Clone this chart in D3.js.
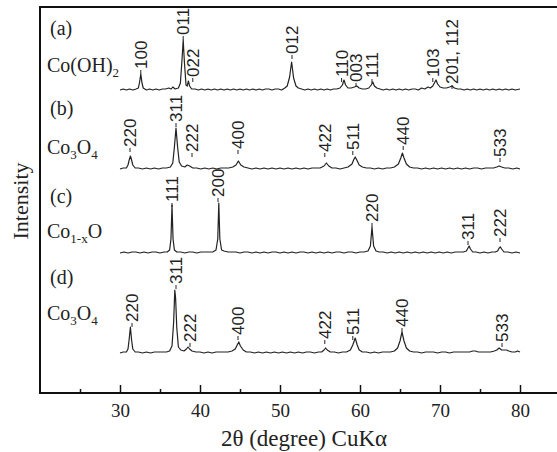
<!DOCTYPE html>
<html lang="en">
<head>
    <meta charset="UTF-8">
    <title>XRD patterns of cobalt hydroxide and oxides</title>
    <script src="https://d3js.org/d3.v7.min.js"></script>
    <style>
        body { margin: 0; background: #fff; }
        .serif { font-family: "Liberation Serif", "DejaVu Serif", serif; fill: #222; }
        .hkl { font-family: "Liberation Sans", Arial, sans-serif; font-size: 17px; fill: #222; }
        .trace { fill: none; stroke: #222; stroke-width: 1.2px; stroke-linejoin: round; }
    </style>
</head>
<body>
    <svg id="chart"></svg>

    <script>
        // ---- data: [2theta, intensity above the trace baseline] ----
        var xrdA = [[30,0],[30.4,1],[30.8,0],[31.2,1],[31.6,0],[32.0,1],[32.3,2],[32.45,8],[32.6,16],[32.75,7],[32.9,2],[33.3,0],[33.7,1],[34.1,0],[34.5,1],[34.9,0],[35.3,1],[35.7,1],[36.1,2],[36.4,1],[36.6,3],[36.9,1],[37.3,2],[37.55,7],[37.75,30],[37.9,50],[38.05,28],[38.25,5],[38.4,4],[38.55,9],[38.7,4],[38.95,1],[39.4,1],[39.8,0],[40.2,1],[40.6,0],[41,1],[41.4,0],[41.8,1],[42.2,0],[42.6,1],[43,0],[43.4,1],[43.8,0],[44.2,1],[44.6,0],[45,1],[45.4,0],[45.8,1],[46.2,0],[46.6,1],[47,0],[47.4,1],[47.8,0],[48.2,1],[48.6,1],[49,0],[49.4,1],[49.8,1],[50.2,0],[50.6,2],[50.9,4],[51.2,13],[51.45,28],[51.7,12],[52.0,4],[52.3,2],[52.7,1],[53.1,0],[53.5,1],[53.9,0],[54.3,1],[54.7,0],[55.1,1],[55.5,0],[55.9,1],[56.3,0],[56.7,1],[57.1,1],[57.5,2],[57.8,5],[58.0,10],[58.2,5],[58.5,2],[58.9,2],[59.3,3],[59.6,4],[59.9,2],[60.3,1],[60.7,1],[61.1,2],[61.4,5],[61.6,8],[61.8,4],[62.1,2],[62.5,1],[62.9,0],[63.3,1],[63.7,0],[64.1,1],[64.5,0],[64.9,1],[65.3,0],[65.7,1],[66.1,0],[66.5,1],[66.9,1],[67.3,0],[67.7,2],[68.1,1],[68.5,3],[68.8,2],[69.1,4],[69.3,7],[69.5,10],[69.7,6],[70.0,3],[70.4,2],[70.8,2],[71.2,3],[71.5,4],[71.8,2],[72.2,1],[72.6,1],[73,0],[73.4,1],[73.8,0],[74.2,1],[74.6,0],[75,1],[75.4,0],[75.8,1],[76.2,0],[76.6,1],[77,0],[77.4,1],[77.8,0],[78.2,1],[78.6,0],[79,1],[79.4,0],[80,1]];

        var xrdB = [[30,0],[30.4,1],[30.8,1],[31.0,4],[31.15,9],[31.3,13],[31.45,9],[31.6,4],[31.9,1],[32.3,1],[32.8,0],[33.3,1],[33.8,0],[34.3,1],[34.8,0],[35.3,1],[35.8,1],[36.3,2],[36.6,6],[36.8,22],[37.0,41],[37.2,22],[37.4,7],[37.7,3],[38.1,2],[38.4,4],[38.7,3],[39.1,1],[39.6,1],[40.1,0],[40.6,1],[41.1,0],[41.6,1],[42.1,0],[42.6,1],[43.1,1],[43.6,1],[44.1,2],[44.5,4],[44.8,8],[45.1,4],[45.5,2],[46,1],[46.5,0],[47,1],[47.5,0],[48,1],[48.5,0],[49,1],[49.5,0],[50,1],[50.5,0],[51,1],[51.5,0],[52,1],[52.5,0],[53,1],[53.5,0],[54,1],[54.5,1],[55,1],[55.5,3],[55.8,6],[56.1,3],[56.5,1],[57,1],[57.5,0],[58,1],[58.5,2],[59,5],[59.2,9],[59.4,12],[59.6,9],[59.9,4],[60.3,2],[60.8,1],[61.3,1],[61.8,0],[62.3,1],[62.8,0],[63.3,1],[63.8,1],[64.3,2],[64.8,5],[65.1,11],[65.3,16],[65.5,11],[65.8,5],[66.2,2],[66.7,1],[67.2,1],[67.7,0],[68.2,1],[68.7,0],[69.2,1],[69.7,0],[70.2,1],[70.7,0],[71.2,1],[71.7,0],[72.2,1],[72.7,0],[73.2,1],[73.7,0],[74.2,1],[74.7,1],[75.2,0],[75.7,1],[76.2,1],[76.7,1],[77.1,2],[77.4,3],[77.7,2],[78.1,1],[78.6,1],[79.1,0],[79.6,1],[80,0]];

        var xrdC = [[30,0],[30.5,1],[31,0],[31.5,1],[32,1],[32.5,0],[33,1],[33.5,0],[34,1],[34.5,1],[35,0],[35.5,1],[35.9,1],[36.2,3],[36.37,14],[36.5,48],[36.63,14],[36.8,3],[37.1,1],[37.6,1],[38.1,0],[38.6,1],[39.1,1],[39.6,0],[40.1,1],[40.6,1],[41.1,1],[41.6,1],[42.0,3],[42.22,14],[42.35,50],[42.48,14],[42.7,3],[43.0,2],[43.5,1],[44,1],[44.5,1],[45,0],[45.5,1],[46,1],[46.5,0],[47,1],[47.5,0],[48,1],[48.5,0],[49,1],[49.5,1],[50,0],[50.5,1],[51,0],[51.5,1],[52,0],[52.5,1],[53,1],[53.5,0],[54,1],[54.5,0],[55,1],[55.5,0],[56,1],[56.5,0],[57,1],[57.5,1],[58,0],[58.5,1],[59,1],[59.5,0],[60,1],[60.5,1],[61.0,2],[61.3,7],[61.5,26],[61.7,7],[62.0,2],[62.4,1],[62.9,1],[63.4,0],[63.9,1],[64.4,0],[64.9,1],[65.4,0],[65.9,1],[66.4,0],[66.9,1],[67.4,0],[67.9,1],[68.4,0],[68.9,1],[69.4,0],[69.9,1],[70.4,0],[70.9,1],[71.4,0],[71.9,1],[72.4,1],[72.9,1],[73.3,2],[73.5,5],[73.65,7],[73.8,4],[74.1,1],[74.5,1],[75,0],[75.5,1],[76,0],[76.5,1],[76.9,1],[77.2,2],[77.4,5],[77.55,6],[77.7,4],[78,1],[78.5,1],[79,0],[79.5,1],[80,0]];

        var xrdD = [[30,0],[30.4,1],[30.8,1],[31.0,4],[31.15,14],[31.3,26],[31.45,13],[31.6,4],[31.9,1],[32.3,1],[32.8,0],[33.3,1],[33.8,0],[34.3,1],[34.8,1],[35.3,1],[35.8,1],[36.2,2],[36.5,7],[36.7,30],[36.85,63],[36.95,55],[37.1,25],[37.3,6],[37.6,3],[38.0,2],[38.3,4],[38.5,6],[38.7,4],[39.0,2],[39.5,1],[40,1],[40.5,0],[41,1],[41.5,0],[42,1],[42.5,1],[43,1],[43.5,1],[44.0,2],[44.4,4],[44.65,8],[44.85,11],[45.05,7],[45.4,3],[45.8,1],[46.3,1],[46.8,0],[47.3,1],[47.8,0],[48.3,1],[48.8,0],[49.3,1],[49.8,0],[50.3,1],[50.8,0],[51.3,1],[51.8,0],[52.3,1],[52.8,0],[53.3,1],[53.8,1],[54.3,0],[54.8,1],[55.2,1],[55.5,3],[55.7,5],[55.9,3],[56.3,1],[56.8,1],[57.3,0],[57.8,1],[58.3,1],[58.8,3],[59.1,8],[59.4,15],[59.65,8],[59.9,3],[60.3,1],[60.8,1],[61.3,0],[61.8,1],[62.3,0],[62.8,1],[63.3,1],[63.8,1],[64.3,2],[64.7,5],[65.0,12],[65.25,21],[65.5,12],[65.8,5],[66.2,2],[66.7,1],[67.2,1],[67.7,0],[68.2,1],[68.7,1],[69.2,1],[69.7,0],[70.2,1],[70.7,1],[71.2,0],[71.7,1],[72.2,1],[72.7,1],[73.2,1],[73.7,1],[74.1,2],[74.4,2],[74.8,1],[75.3,1],[75.8,1],[76.3,1],[76.8,2],[77.1,3],[77.4,5],[77.7,3],[78.0,3],[78.3,3],[78.6,2],[79,1],[79.4,1],[79.7,2],[80,1]];

        // peak labels: [hkl, 2theta of label, height above baseline where the label starts]
        var hklA = [["100",32.6,18],["011",37.9,52],["022",39.1,10],["012",51.5,33],["110",57.7,10],["003",59.5,5],["111",61.5,9],["103",69.1,10],["201, 112",71.5,3]];
        var hklB = [["220",31.25,19],["311",37.0,44],["222",39.0,14],["400",44.75,17],["422",55.6,14],["511",59.1,16],["440",65.4,21],["533",77.5,9]];
        var hklC = [["111",36.5,48],["200",42.25,53],["220",61.5,28],["311",73.5,10],["222",77.5,13]];
        var hklD = [["220",31.5,28],["311",37.0,66],["222",38.75,8],["400",44.75,15],["422",55.6,11],["511",59.1,15],["440",65.25,23],["533",77.75,8]];

        var panelTags = ["(a)", "(b)", "(c)", "(d)"];
        var phases = ["Co(OH)_{2}", "Co_{3}O_{4}", "Co_{1-x}O", "Co_{3}O_{4}"];
        var offsets = [303, 224, 140, 40];   // vertical stacking offset of each trace

        var xMajor = [30, 40, 50, 60, 70, 80];
        var xMinor = [25, 35, 45, 55, 65, 75];

        // ---- layout ----
        var W = 557, H = 452;
        var margin = { top: 7, left: 40 },
            width = 520,
            height = 386;
        var tagY = [35, 115, 203, 284];      // baselines of panel tags
        var phaseY = [72, 154, 238, 320];    // baselines of phase names

        var svg = d3.select("#chart")
            .attr("width", W)
            .attr("height", H);

        var g = svg.append("g")
            .attr("transform", "translate(" + margin.left + "," + margin.top + ")");

        var x = d3.scaleLinear().domain([20, 85]).range([0, width]);
        var y = d3.scaleLinear().domain([0, 386]).range([height, 0]);

        var series = [xrdA, xrdB, xrdC, xrdD];
        var labels = [hklA, hklB, hklC, hklD];

        // frame (right edge falls outside the picture, as in the original)
        g.append("rect")
            .attr("x", 0).attr("y", 0)
            .attr("width", width).attr("height", height)
            .attr("fill", "none")
            .attr("stroke", "#111")
            .attr("stroke-width", 2);

        // ticks point inwards
        g.append("g")
            .attr("transform", "translate(0," + height + ")")
            .call(d3.axisBottom(x).tickValues(xMajor).tickSizeInner(-8).tickSizeOuter(0).tickPadding(11))
            .call(a => a.select(".domain").remove())
            .call(a => a.selectAll("line").attr("stroke", "#111").attr("stroke-width", 1.5))
            .call(a => a.selectAll("text")
                .attr("class", "serif")
                .style("font-size", "19px")
                .attr("fill", "#222"));

        g.append("g")
            .attr("transform", "translate(0," + height + ")")
            .call(d3.axisBottom(x).tickValues(xMinor).tickSizeInner(-4).tickSizeOuter(0).tickFormat(""))
            .call(a => a.select(".domain").remove())
            .call(a => a.selectAll("text").remove())
            .call(a => a.selectAll("line").attr("stroke", "#111").attr("stroke-width", 1.5));

        var line = d3.line()
            .x(d => x(d[0]))
            .y(d => y(d[1]));

        series.forEach(function(s, i) {
            var off = offsets[i];

            g.append("path")
                .datum(s.map(d => [d[0], d[1] + off]))
                .attr("class", "trace")
                .attr("d", line);

            // hkl labels, rotated, with a short leader
            var lg = g.append("g");
            labels[i].forEach(function(l) {
                var lx = x(l[1]), ly = y(off + l[2]);
                lg.append("line")
                    .attr("x1", lx).attr("x2", lx)
                    .attr("y1", ly - 2).attr("y2", ly + 2)
                    .attr("stroke", "#222").attr("stroke-width", 1);
                lg.append("text")
                    .attr("class", "hkl")
                    .attr("transform", "translate(" + lx + "," + (ly - 3) + ") rotate(-90)")
                    .attr("dy", "0.36em")
                    .text(l[0]);
            });

            // panel tag and phase name
            svg.append("text")
                .attr("class", "serif")
                .attr("x", 50).attr("y", tagY[i])
                .style("font-size", "20px")
                .text(panelTags[i]);

            var t = svg.append("text")
                .attr("class", "serif")
                .attr("x", 47).attr("y", phaseY[i])
                .style("font-size", "20px");
            var parts = phases[i].split(/_\{([^}]*)\}/);
            var shift = 0;
            parts.forEach(function(p, k) {
                if (!p) return;
                if (k % 2 === 1) {
                    t.append("tspan").attr("dy", 5 - shift).style("font-size", "13px").text(p);
                    shift = 5;
                } else {
                    t.append("tspan").attr("dy", -shift).text(p);
                    shift = 0;
                }
            });
        });

        // axis titles
        svg.append("text")
            .attr("class", "serif")
            .attr("x", 304).attr("y", 446)
            .attr("text-anchor", "middle")
            .style("font-size", "23px")
            .text("2\u03b8 (degree) CuK\u03b1");

        svg.append("text")
            .attr("class", "serif")
            .attr("transform", "translate(28,201) rotate(-90)")
            .attr("text-anchor", "middle")
            .style("font-size", "22px")
            .text("Intensity");
    </script>
</body>
</html>
